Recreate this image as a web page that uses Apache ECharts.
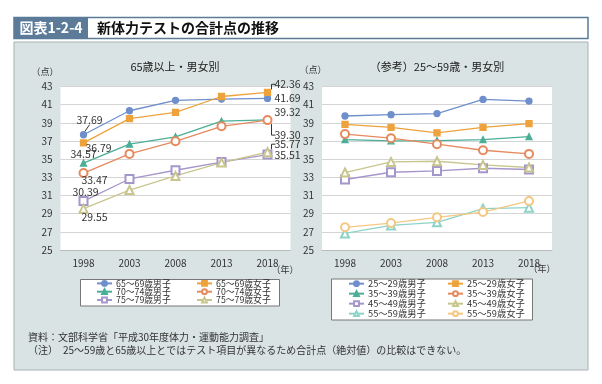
<!DOCTYPE html>
<html><head><meta charset="utf-8">
<script src="https://cdn.jsdelivr.net/npm/echarts@6/dist/echarts.min.js"></script>
<style>html,body{margin:0;padding:0;background:#fff}#c{width:602px;height:384px}</style>
</head><body><div id="c"></div>
<script>
const years = ['1998','2003','2008','2013','2018'];
const yTicks = [25,27,29,31,33,35,37,39,41,43];

const leftNames = ['65～69歳男子','65～69歳女子','70～74歳男子','70～74歳女子','75～79歳男子','75～79歳女子'];
const m6569 = [37.69, 40.33, 41.48, 41.62, 41.69];
const f6569 = [36.79, 39.47, 40.15, 41.90, 42.36];
const m7074 = [34.57, 36.65, 37.46, 39.18, 39.32];
const f7074 = [33.47, 35.58, 36.97, 38.62, 39.30];
const m7579 = [30.39, 32.82, 33.78, 34.68, 35.51];
const f7579 = [29.55, 31.60, 33.15, 34.62, 35.77];

const rightNames = ['25～29歳男子','25～29歳女子','35～39歳男子','35～39歳女子','45～49歳男子','45～49歳女子','55～59歳男子','55～59歳女子'];
const m2529 = [39.75, 39.90, 40.02, 41.58, 41.40];
const f2529 = [38.83, 38.50, 37.90, 38.50, 38.92];
const m3539 = [37.15, 37.02, 37.05, 37.15, 37.48];
const f3539 = [37.76, 37.31, 36.65, 35.98, 35.58];
const m4549 = [32.76, 33.56, 33.70, 34.00, 33.86];
const f4549 = [33.53, 34.70, 34.77, 34.37, 34.08];
const m5559 = [26.82, 27.70, 28.05, 29.55, 29.66];
const f5559 = [27.50, 27.97, 28.60, 29.18, 30.40];

const FONT = '"Noto Sans CJK JP", "Noto Sans", sans-serif';
const colors = {
  blue:'#6f8fcc', orange:'#eea23c', teal:'#4cae96', red:'#e58a5e',
  purple:'#a596cc', khaki:'#c9c58e', cyan:'#8ed3c8', lorange:'#f4c783'
};
const styles = [
  {c:colors.blue, s:'circle', z:6},
  {c:colors.orange, s:'rect', z:6},
  {c:colors.teal, s:'triangle', z:6},
  {c:colors.red, s:'emptyCircle', z:8},
  {c:colors.purple, s:'emptyRect', z:8},
  {c:colors.khaki, s:'emptyTriangle', z:8},
  {c:colors.cyan, s:'emptyTriangle', z:8},
  {c:colors.lorange, s:'emptyCircle', z:8}
];

// label offsets (dx, dy, leader type) for annotated points of the left chart: key = seriesIdx-dataIdx
const labelCfg = {
  '0-0':[6,-15,'diag'], '1-0':[15,5,null], '2-0':[0,-9,null], '3-0':[11,7,null], '4-0':[2,-9,null], '5-0':[11,8,null],
  '0-4':[20,0,null], '1-4':[20,-8,'up'], '2-4':[20,-8,null], '3-4':[20,15,'down'], '4-4':[20,0,null], '5-4':[20,-8,'up']
};

function mkSeries(name, vals, st, gi, sIdx, annotate){
  return {
    name, type:'line', xAxisIndex:gi, yAxisIndex:gi,
    data: vals.map((v,i)=>{
      const key = sIdx+'-'+i;
      if(annotate && labelCfg[key]){
        return {value:v, label:{show:true, position:'inside', formatter:v.toFixed(2)}};
      }
      return v;
    }),
    symbol: st.s, symbolSize: st.z,
    showAllSymbol:true,
    itemStyle:{color: st.c, borderColor: st.c, borderWidth: 1.3},
    lineStyle:{color: st.c, width: 1.3},
    label:{show:false, color:'#333', fontSize:10.5, fontFamily:FONT},
    labelLayout: annotate ? function(p){
      const cfg = labelCfg[sIdx+'-'+p.dataIndex];
      if(!cfg) return {};
      return {dx:cfg[0], dy:cfg[1]};
    } : undefined,
    emphasis:{disabled:true},
    animation:false
  };
}

const leftData = [m6569,f6569,m7074,f7074,m7579,f7579];
const rightData = [m2529,f2529,m3539,f3539,m4549,f4549,m5559,f5559];
const series = [];
leftData.forEach((d,i)=>series.push(mkSeries(leftNames[i], d, styles[i], 0, i, true)));
rightData.forEach((d,i)=>series.push(mkSeries(rightNames[i], d, styles[i], 1, i, false)));

function xAx(gi){
  return {type:'category', gridIndex:gi, data:years, boundaryGap:true,
    axisLine:{show:true, lineStyle:{color:'#bbb'}}, axisTick:{show:false},
    axisLabel:{color:'#333', fontSize:10, fontFamily:FONT, margin:8}};
}
function yAx(gi){
  return {type:'value', gridIndex:gi, min:yTicks[0], max:yTicks[yTicks.length-1], interval:2,
    axisLine:{show:false}, axisTick:{show:false},
    axisLabel:{color:'#333', fontSize:10, fontFamily:FONT, margin:8},
    splitLine:{lineStyle:{color:'#d4d4d4', width:1}}};
}
// one legend component per item, placed in two columns
function leg(name, left, cy, fs){
  return {data:[name], orient:'horizontal', left, top:cy-6, itemWidth:15, itemHeight:6, itemGap:0,
    textStyle:{fontSize:fs, color:'#333', fontFamily:FONT, padding:[0,0,0,-1]}, padding:0, selectedMode:false};
}
const legends = [];
const leftRows = [285, 293.3, 301.6];
for(let r=0;r<3;r++){
  legends.push(leg(leftNames[r*2], 96, leftRows[r], 8.8));
  legends.push(leg(leftNames[r*2+1], 196, leftRows[r], 8.8));
}
const rightRows = [285, 295, 305, 315];
for(let r=0;r<4;r++){
  legends.push(leg(rightNames[r*2], 348, rightRows[r], 9.3));
  legends.push(leg(rightNames[r*2+1], 447, rightRows[r], 9.3));
}

const option = {
  backgroundColor:'#fff',
  animation:false,
  graphic:[
    {id:'panel', type:'rect', shape:{x:14, y:42, width:574, height:328}, style:{fill:'#d9e3e3', stroke:'#a9b1b1', lineWidth:1}, z:-10},
    {id:'hdr', type:'rect', shape:{x:14, y:17.5, width:574, height:21}, style:{fill:'#fff', stroke:'#5b7b99', lineWidth:1.5}},
    {id:'hdrL', type:'rect', shape:{x:14, y:17.5, width:74, height:21}, style:{fill:'#5b7b99'}},
    {id:'hdrT1', type:'text', x:51, y:28, style:{text:'図表1-2-4', fill:'#fff', font:'bold 14px '+FONT, align:'center', verticalAlign:'middle'}},
    {id:'hdrT2', type:'text', x:97, y:28, style:{text:'新体力テストの合計点の推移', fill:'#111', font:'bold 14px '+FONT, align:'left', verticalAlign:'middle'}},
    {id:'lbox1', type:'rect', shape:{x:80.5, y:279.5, width:199, height:26.5}, style:{fill:'#fff', stroke:'#777', lineWidth:1}},
    {id:'lbox2', type:'rect', shape:{x:331.5, y:279, width:201, height:41}, style:{fill:'#fff', stroke:'#777', lineWidth:1}},
    {id:'u1', type:'text', x:45, y:72, style:{text:'（点）', fill:'#333', font:'9px '+FONT, align:'center', verticalAlign:'middle'}},
    {id:'u2', type:'text', x:313, y:70, style:{text:'（点）', fill:'#333', font:'9px '+FONT, align:'center', verticalAlign:'middle'}},
    {id:'u3', type:'text', x:285, y:270, style:{text:'（年）', fill:'#333', font:'9px '+FONT, align:'center', verticalAlign:'middle'}},
    {id:'u4', type:'text', x:542, y:269, style:{text:'（年）', fill:'#333', font:'9px '+FONT, align:'center', verticalAlign:'middle'}},
    {id:'src', type:'text', x:28, y:337, style:{text:'資料：文部科学省「平成30年度体力・運動能力調査」', fill:'#333', font:'10px '+FONT, align:'left', verticalAlign:'middle'}},
    {id:'note', type:'text', x:28, y:350, style:{text:'（注）　25～59歳と65歳以上とではテスト項目が異なるため合計点（絶対値）の比較はできない。', fill:'#333', font:'10px '+FONT, align:'left', verticalAlign:'middle'}}
  ],
  title:[
    {text:'65歳以上・男女別', left:170, top:56, textAlign:'center', textStyle:{fontSize:11, fontWeight:'normal', color:'#222', fontFamily:FONT}},
    {text:'（参考）25～59歳・男女別', left:432, top:56, textAlign:'center', textStyle:{fontSize:11, fontWeight:'normal', color:'#222', fontFamily:FONT}}
  ],
  grid:[
    {left:60.5, top:86.5, width:230, height:163.5, show:true, backgroundColor:'#fff', borderWidth:0},
    {left:322, top:86.5, width:230, height:163.5, show:true, backgroundColor:'#fff', borderWidth:0}
  ],
  xAxis:[xAx(0), xAx(1)],
  yAxis:[yAx(0), yAx(1)],
  legend:legends,
  series
};
const chart = echarts.init(document.getElementById('c'), null, {renderer:'canvas'});
chart.setOption(option);

// leader lines for labels, anchored on the data points through the chart's own scales
const leaders = [];
Object.keys(labelCfg).forEach(k=>{
  const cfg = labelCfg[k];
  if(!cfg[2]) return;
  const [s, d] = k.split('-').map(Number);
  const p = chart.convertToPixel({gridIndex:0}, [d, leftData[s][d]]);
  let pts;
  if(cfg[2]==='diag') pts = [[p[0]+1.5, p[1]-3.5], [p[0]+6, p[1]-10]];
  else if(cfg[2]==='up') pts = [[p[0]+4, p[1]-3], [p[0]+4, p[1]-8], [p[0]+8, p[1]-8]];
  else pts = [[p[0]+4, p[1]+4], [p[0]+4, p[1]+15], [p[0]+8, p[1]+15]];
  leaders.push({id:'lead'+k, type:'polyline', shape:{points:pts}, style:{stroke:'#333', lineWidth:1, fill:null}, z:100});
});
chart.setOption({graphic:leaders});
</script></body></html>
